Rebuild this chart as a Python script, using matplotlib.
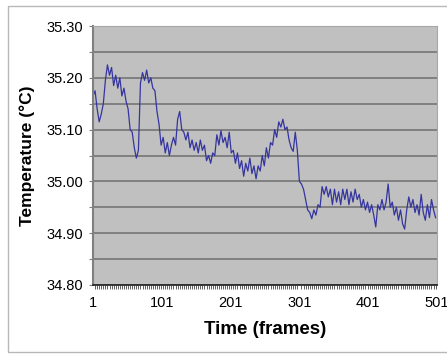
import numpy as np
import matplotlib.pyplot as plt
from matplotlib.patches import Rectangle

temps = [
    35.165, 35.175, 35.140, 35.115, 35.130, 35.150, 35.195, 35.225, 35.205, 35.220,
    35.185, 35.205, 35.180, 35.200, 35.165, 35.180, 35.155, 35.140, 35.100, 35.095,
    35.065, 35.045, 35.060, 35.190, 35.210, 35.195, 35.215, 35.190, 35.200, 35.180,
    35.175, 35.135, 35.110, 35.070, 35.085, 35.055, 35.075, 35.050, 35.070, 35.085,
    35.070, 35.120, 35.135, 35.100, 35.095, 35.080, 35.095, 35.065, 35.080, 35.060,
    35.075, 35.055, 35.080, 35.060, 35.070, 35.040, 35.050, 35.035, 35.055, 35.050,
    35.090, 35.070, 35.098, 35.075, 35.085, 35.065, 35.095, 35.055, 35.060, 35.035,
    35.055, 35.025, 35.040, 35.010, 35.035, 35.020, 35.045, 35.015, 35.030, 35.005,
    35.030, 35.020, 35.050, 35.030, 35.065, 35.045, 35.075, 35.070, 35.100, 35.085,
    35.115, 35.105, 35.120, 35.100, 35.105, 35.080, 35.065, 35.058, 35.095, 35.060,
    35.000, 34.995, 34.985, 34.965, 34.945, 34.940, 34.928, 34.945, 34.935, 34.955,
    34.950, 34.990, 34.975, 34.990, 34.970, 34.985, 34.955, 34.985, 34.960, 34.980,
    34.955, 34.985, 34.965, 34.985, 34.955, 34.980, 34.960, 34.985, 34.965, 34.975,
    34.950, 34.965, 34.945, 34.960, 34.940, 34.955, 34.935, 34.912, 34.955, 34.945,
    34.965, 34.945, 34.960, 34.995, 34.950, 34.960, 34.935, 34.950, 34.925, 34.945,
    34.918, 34.908, 34.945, 34.970, 34.950, 34.965, 34.940, 34.955, 34.935, 34.975,
    34.940, 34.925, 34.955, 34.930, 34.965, 34.945, 34.930,
]
frames = 1 + 3 * np.arange(len(temps))

xticks = [1, 101, 201, 301, 401, 501]
yticks = [34.80, 34.90, 35.00, 35.10, 35.20, 35.30]

plt.rcParams['font.family'] = ['Liberation Sans', 'DejaVu Sans']

fig = plt.figure(figsize=(4.47, 3.54), dpi=100)
fig.patches.append(Rectangle((8 / 447, 2 / 354), 1.0, 346 / 354, transform=fig.transFigure,
                             fill=False, edgecolor='#b8b8b8', linewidth=1.0))

ax = fig.add_axes([93 / 447, 69 / 354, 344 / 447, 259 / 354])
ax.set_facecolor('#c0c0c0')
ax.plot(frames, temps, color='#3535a0', linewidth=0.9)

ax.set_xlim(1, 501)
ax.set_ylim(34.80, 35.30)
grid_vals = np.arange(34.80, 35.301, 0.05)
ax.set_yticks(grid_vals)
ax.set_yticklabels(['%.2f' % v if np.isclose(yticks, v).any() else '' for v in grid_vals])
ax.yaxis.grid(True, color='#6e6e6e', linewidth=1.1)
ax.set_axisbelow(True)
ax.set_xticks(xticks)
ax.set_xticks(np.arange(1, 502, 3), minor=True)
ax.tick_params(axis='x', which='major', length=0, pad=8, labelsize=10.5)
ax.tick_params(axis='x', which='minor', length=3, width=0.5, color='#202020')
ax.tick_params(axis='y', length=3, color='#808080', pad=4, labelsize=10.5)

for s in ['top', 'right']:
    ax.spines[s].set_color('#a8a8a8')
    ax.spines[s].set_linewidth(0.8)
ax.spines['left'].set_color('#808080')
ax.spines['left'].set_linewidth(1.5)
ax.spines['bottom'].set_color('#202020')
ax.spines['bottom'].set_linewidth(1.2)

ax.set_xlabel('Time (frames)', fontsize=13.5, fontweight='bold', labelpad=8)
ax.set_ylabel('Temperature (°C)', fontsize=12.5, fontweight='bold', labelpad=8)

fig.savefig('out.png', dpi=100)
